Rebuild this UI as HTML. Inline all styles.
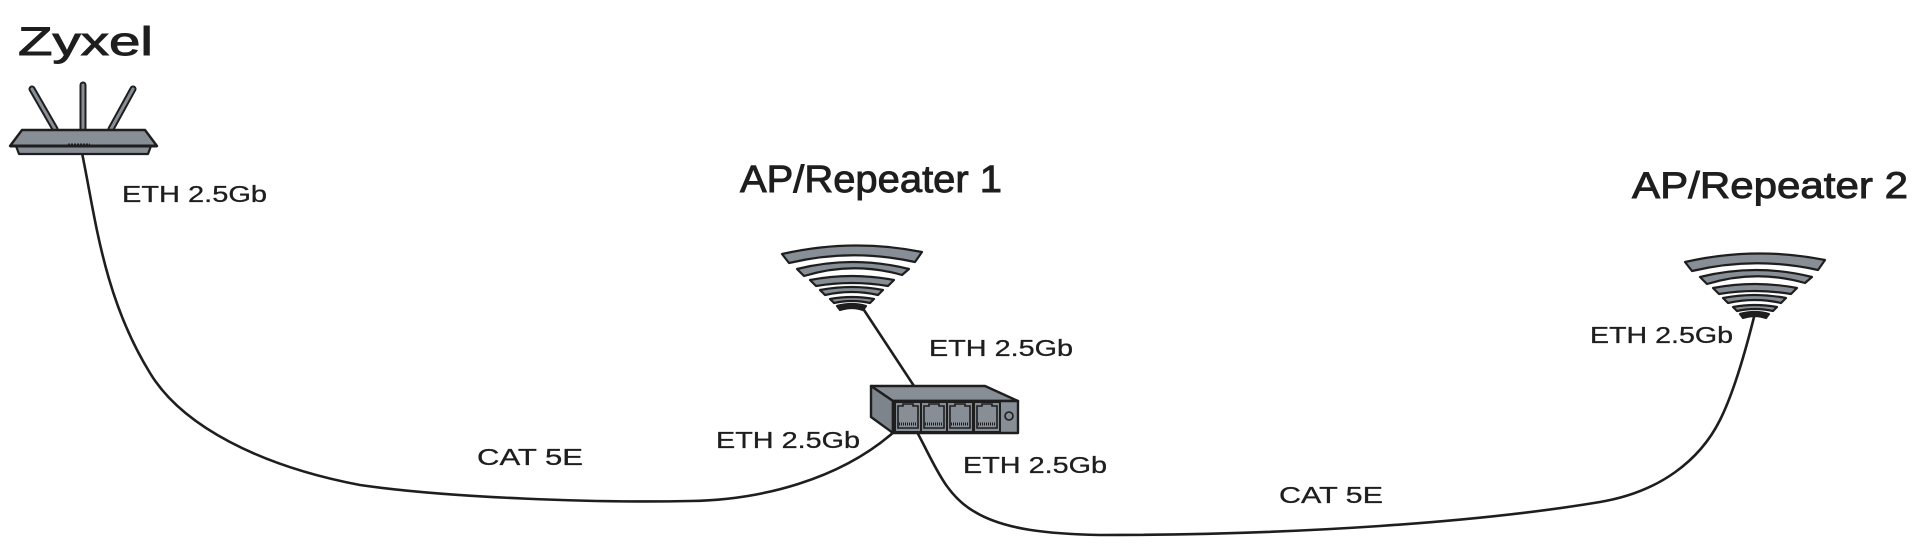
<!DOCTYPE html>
<html><head><meta charset="utf-8"><style>
html,body{margin:0;padding:0;background:#fff;}
svg{display:block;}
text{font-family:"Liberation Sans",sans-serif;fill:#1e1e1e;}
</style></head><body>
<svg width="1921" height="545" viewBox="0 0 1921 545" xmlns="http://www.w3.org/2000/svg">
<rect width="1921" height="545" fill="#fff"/>
<defs>
<g id="wifi" stroke="#1e1e1e" stroke-width="2.2" stroke-linejoin="round" fill="#878e95">
<path d="M1685,262 Q1755,246 1825,260 L1818,270 Q1755,256 1692,271 Z"/>
<path d="M1700,277 Q1756,263 1812,277 L1805,283 Q1756,269 1707,284 Z"/>
<path d="M1713,288 Q1755,280 1797,288 L1791,294 Q1755,288 1719,294 Z"/>
<path d="M1723,298 Q1755,292 1786,298 L1781,303 Q1755,297 1728,303 Z"/>
<path d="M1733,307 Q1755,303 1777,307 L1773,311 Q1755,307 1737,311 Z"/>
<path d="M1740,314 Q1755,310 1769,314 L1766,318 Q1755,314 1743,318 Z" fill="#1e1e1e"/>
</g>
<g id="port">
<rect x="0" y="0" width="26" height="30" fill="#878e95" stroke="#1e1e1e" stroke-width="2"/>
<path d="M3,26 L3,4 L8,4 L8,2 L18,2 L18,4 L23,4 L23,26 Z" fill="#878e95" stroke="#1e1e1e" stroke-width="1.6"/>
<line x1="4" y1="22" x2="22" y2="22" stroke="#1e1e1e" stroke-width="3" stroke-dasharray="1,1"/>
</g>
</defs>

<!-- cables -->
<g fill="none" stroke="#1e1e1e" stroke-width="2.6" stroke-linecap="round">
<path d="M82,153 C95,215 103,297 150,373 C182,426 260,466 360,485 C450,498 600,503 690,501 C760,500 840,480 895,431"/>
<path d="M917,432 C935,465 945,495 975,512 C1005,530 1050,534 1100,535 C1300,535 1480,522 1600,502 C1660,492 1700,460 1720,420 C1735,390 1747,345 1754,317"/>
<path d="M862,307 L914,386"/>
</g>

<!-- router -->
<g stroke-linecap="round">
<line x1="32" y1="89" x2="55" y2="129" stroke="#1e1e1e" stroke-width="7"/>
<line x1="32" y1="89" x2="55" y2="129" stroke="#878e95" stroke-width="3"/>
<line x1="83" y1="85" x2="83" y2="129" stroke="#1e1e1e" stroke-width="7"/>
<line x1="83" y1="85" x2="83" y2="129" stroke="#878e95" stroke-width="3"/>
<line x1="133" y1="89" x2="111" y2="129" stroke="#1e1e1e" stroke-width="7"/>
<line x1="133" y1="89" x2="111" y2="129" stroke="#878e95" stroke-width="3"/>
</g>
<polygon points="16,146 151,146 148,154 19,154" fill="#878e95" stroke="#1e1e1e" stroke-width="2.2" stroke-linejoin="round"/>
<polygon points="22,130 145,130 157,146 10,146" fill="#878e95" stroke="#1e1e1e" stroke-width="2.4" stroke-linejoin="round"/>
<line x1="10" y1="146" x2="157" y2="146" stroke="#1e1e1e" stroke-width="3"/>
<line x1="68" y1="144.5" x2="90" y2="144.5" stroke="#1e1e1e" stroke-width="2" stroke-dasharray="2,1"/>

<!-- AP icons -->
<use href="#wifi"/>
<use href="#wifi" transform="translate(-903,-8)"/>

<!-- switch -->
<g stroke="#1e1e1e" stroke-width="2.4" stroke-linejoin="round">
<polygon points="871,386 985,386 1018,401 893,401" fill="#878e95"/>
<polygon points="871,386 893,401 893,433 871,417" fill="#7d848b"/>
<rect x="893" y="401" width="125" height="32" fill="#878e95"/>
<circle cx="1009" cy="416" r="4" fill="#878e95" stroke-width="1.6"/>
</g>
<use href="#port" transform="translate(895,402)"/>
<use href="#port" transform="translate(921,402)"/>
<use href="#port" transform="translate(947,402)"/>
<use href="#port" transform="translate(974,402)"/>

<!-- titles -->
<g stroke="#1e1e1e" stroke-width="0.9">
<text x="18" y="55" font-size="40" textLength="135" lengthAdjust="spacingAndGlyphs">Zyxel</text>
<text x="740" y="192" font-size="38" textLength="262" lengthAdjust="spacingAndGlyphs">AP/Repeater 1</text>
<text x="1632" y="198" font-size="37" textLength="276" lengthAdjust="spacingAndGlyphs">AP/Repeater 2</text>
</g>

<!-- labels -->
<g stroke="#1e1e1e" stroke-width="0.3">
<text x="122" y="202" font-size="23" textLength="145" lengthAdjust="spacingAndGlyphs">ETH 2.5Gb</text>
<text x="929" y="356" font-size="23" textLength="144" lengthAdjust="spacingAndGlyphs">ETH 2.5Gb</text>
<text x="1590" y="343" font-size="23" textLength="143" lengthAdjust="spacingAndGlyphs">ETH 2.5Gb</text>
<text x="716" y="448" font-size="23" textLength="144" lengthAdjust="spacingAndGlyphs">ETH 2.5Gb</text>
<text x="963" y="473" font-size="23" textLength="144" lengthAdjust="spacingAndGlyphs">ETH 2.5Gb</text>
<text x="477" y="465" font-size="23" textLength="106" lengthAdjust="spacingAndGlyphs">CAT 5E</text>
<text x="1279" y="503" font-size="23" textLength="104" lengthAdjust="spacingAndGlyphs">CAT 5E</text>
</g>
</svg>
</body></html>
